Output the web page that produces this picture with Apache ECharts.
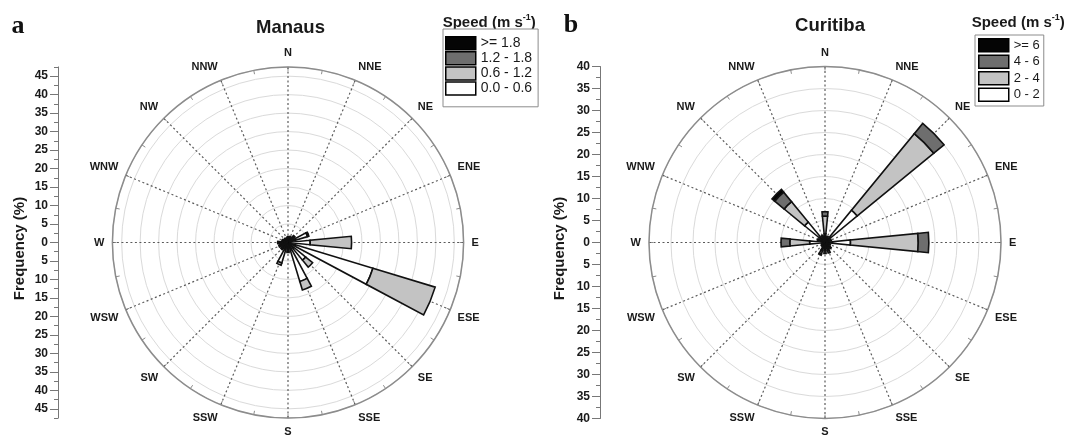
<!DOCTYPE html>
<html><head><meta charset="utf-8">
<script src="https://cdn.jsdelivr.net/npm/echarts@6/dist/echarts.min.js"></script>
<style>html,body{margin:0;padding:0;background:#fff}#c{width:1072px;height:436px}</style>
</head><body><div id="c"></div>
<script>
const directions = ['N','NNE','NE','ENE','E','ESE','SE','SSE','S','SSW','SW','WSW','W','WNW','NW','NNW'];

// Manaus – frequency (%) per speed class, stacked from the centre outwards
const manausClasses = ['0.0 - 0.6', '0.6 - 1.2', '1.2 - 1.8', '>= 1.8'];
const manausC1 = [1.0, 1.2, 1.5, 5.5, 6.0, 24.0, 6.2, 11.0, 2.0, 5.8, 1.5, 1.5, 1.5, 1.0, 0.8, 0.8];
const manausC2 = [0.3, 0.3, 0.5, 0.4, 11.2, 17.6, 2.4, 2.4, 0.5, 0.6, 0.5, 0.5, 0.6, 0.4, 0.3, 0.3];
const manausC3 = [0.2, 0.2, 0.3, 0, 0, 0, 0, 0, 0.2, 0, 0.3, 0.4, 0.4, 0.2, 0.2, 0.1];
const manausC4 = [0.1, 0, 0.1, 0, 0, 0, 0, 0, 0, 0, 0.2, 0.2, 0.3, 0.1, 0.1, 0.1];
const manausTicks = [-45, -40, -35, -30, -25, -20, -15, -10, -5, 0, 5, 10, 15, 20, 25, 30, 35, 40, 45];
const manausMax = 47.5;

// Curitiba
const curitibaClasses = ['0 - 2', '2 - 4', '4 - 6', '>= 6'];
const curitibaC1 = [2.0, 1.0, 9.5, 1.0, 5.8, 1.0, 1.0, 1.2, 1.0, 1.0, 0.8, 0.5, 3.5, 1.0, 6.0, 1.0];
const curitibaC2 = [4.0, 0.5, 22.5, 0.5, 15.4, 0.3, 0.5, 0.8, 0.8, 1.0, 0.3, 0.3, 4.5, 0.5, 6.0, 0.5];
const curitibaC3 = [1.0, 0, 3.0, 0, 2.4, 0, 0.3, 0.5, 0.7, 0.8, 0, 0, 2.0, 0.3, 2.8, 0.2];
const curitibaC4 = [0, 0, 0, 0, 0, 0, 0, 0, 0, 0.2, 0, 0, 0, 0, 0.8, 0];
const curitibaTicks = [-40, -35, -30, -25, -20, -15, -10, -5, 0, 5, 10, 15, 20, 25, 30, 35, 40];
const curitibaMax = 40;

const classColors = ['#ffffff', '#c3c3c3', '#6e6e6e', '#050505'];
const SANS = '"Liberation Sans", Arial, sans-serif';
const TXT = '#1a1a1a';

const chart = echarts.init(document.getElementById('c'), null, {renderer: 'canvas'});

function bgAngle(polarIndex) {
  return {
    polarIndex, type: 'value', min: 0, max: 360, interval: 22.5, startAngle: 90, clockwise: true,
    axisLine: {show: true, lineStyle: {color: '#8c8c8c', width: 1.5}},
    axisTick: {show: true, inside: true, length: 4, lineStyle: {color: '#8c8c8c', width: 1}},
    minorTick: {show: true, splitNumber: 2, length: 4, lineStyle: {color: '#8c8c8c', width: 1}},
    splitLine: {show: true, lineStyle: {color: '#5a5a5a', type: [2, 2.5], width: 1.2}},
    axisLabel: {
      formatter: v => { const i = Math.round(v / 22.5); return i >= 16 ? '' : directions[i]; },
      fontFamily: SANS, fontWeight: 'bold', fontSize: 11, color: TXT, margin: 8
    }
  };
}
function barAngle(polarIndex) {
  return {
    polarIndex, type: 'category', data: directions, startAngle: 101.25, clockwise: true,
    axisLine: {show: false}, axisTick: {show: false}, axisLabel: {show: false}, splitLine: {show: false}
  };
}
function bgRadius(polarIndex, max) {
  return {
    polarIndex, type: 'value', min: 0, max, interval: 5,
    axisLine: {show: false}, axisTick: {show: false}, axisLabel: {show: false},
    splitLine: {show: true, lineStyle: {color: '#dadada', width: 1}}
  };
}
function barRadius(polarIndex, max) {
  return {
    polarIndex, type: 'value', min: 0, max,
    axisLine: {show: false}, axisTick: {show: false}, axisLabel: {show: false}, splitLine: {show: false}
  };
}
function barSeries(name, values, color, polarIndex, stack) {
  return {
    type: 'bar', coordinateSystem: 'polar', polarIndex, name, stack,
    data: values.map(v => (v > 0 ? v : '-')),
    barWidth: '50%', silent: true, animation: false,
    itemStyle: {color, borderColor: '#111', borderWidth: 1.6}
  };
}
const absLabel = v => { const r = Math.round(Math.abs(v) * 10); return r % 50 === 0 ? String(r / 10) : ''; };
function mainY(gridIndex, max, ticks, nameGap) {
  return {
    gridIndex, type: 'value', min: -max, max, interval: 2.5, position: 'left',
    axisLine: {show: true, lineStyle: {color: '#777', width: 1}},
    axisTick: {show: true, length: 4, lineStyle: {color: '#777'}},
    axisLabel: {customValues: ticks, formatter: absLabel, fontFamily: SANS, fontSize: 12, fontWeight: 'bold', color: TXT, margin: 10},
    splitLine: {show: false},
    name: 'Frequency (%)', nameLocation: 'middle', nameGap,
    nameTextStyle: {fontFamily: SANS, fontSize: 15, fontWeight: 'bold', color: TXT, padding: [0, 12, 0, 0]}
  };
}
function majorTickY(gridIndex, max, ticks) {
  return {
    gridIndex, type: 'value', min: -max, max, position: 'left',
    axisLine: {show: false}, axisLabel: {show: false}, splitLine: {show: false},
    axisTick: {show: true, customValues: ticks, length: 8, lineStyle: {color: '#777'}}
  };
}
function legend(left, top, data, padding, gap, fontSize) {
  return {
    orient: 'vertical', left, top, data, selectedMode: false,
    icon: 'rect', itemWidth: 30, itemHeight: 13, itemGap: gap, padding,
    borderColor: '#8c8c8c', borderWidth: 1, backgroundColor: '#fff',
    itemStyle: {borderColor: '#000', borderWidth: 1.5},
    textStyle: {fontFamily: SANS, fontSize, color: TXT, lineHeight: 13}
  };
}
function speedTitle(x, y) {
  return {
    type: 'text', x, y,
    style: {
      text: '{t|Speed (m s}{s|-1}{t|)}',
      textVerticalAlign: 'middle', textAlign: 'left',
      rich: {
        t: {fontFamily: SANS, fontSize: 15, fontWeight: 'bold', fill: TXT, lineHeight: 17, verticalAlign: 'bottom'},
        s: {fontFamily: SANS, fontSize: 9, fontWeight: 'bold', fill: TXT, lineHeight: 17, verticalAlign: 'top'}
      }
    }
  };
}

const series = [];
[manausC1, manausC2, manausC3, manausC4].forEach((vals, i) =>
  series.push(barSeries(manausClasses[i], vals, classColors[i], 1, 'manaus')));
[curitibaC1, curitibaC2, curitibaC3, curitibaC4].forEach((vals, i) =>
  series.push(barSeries(curitibaClasses[i], vals, classColors[i], 3, 'curitiba')));

chart.setOption({
  backgroundColor: '#fff',
  animation: false,
  polar: [
    {center: [288, 242.5], radius: 175.6},
    {center: [288, 242.5], radius: 175.6},
    {center: [825, 242.5], radius: 176},
    {center: [825, 242.5], radius: 176}
  ],
  angleAxis: [bgAngle(0), barAngle(1), bgAngle(2), barAngle(3)],
  radiusAxis: [bgRadius(0, manausMax), barRadius(1, manausMax), bgRadius(2, curitibaMax), barRadius(3, curitibaMax)],
  grid: [
    {left: 58, top: 242.5 - 175.6, width: 1, height: 351.2},
    {left: 600, top: 242.5 - 176, width: 1, height: 352}
  ],
  xAxis: [{gridIndex: 0, type: 'value', show: false}, {gridIndex: 1, type: 'value', show: false}],
  yAxis: [
    mainY(0, manausMax, manausTicks, 30.5), majorTickY(0, manausMax, manausTicks),
    mainY(1, curitibaMax, curitibaTicks, 33), majorTickY(1, curitibaMax, curitibaTicks)
  ],
  legend: [
    legend(443, 29, manausClasses.slice().reverse(), [7, 6, 11, 2], 0.6, 14),
    legend(975, 35, curitibaClasses.slice().reverse(), [3, 4, 4, 3], 2, 13)
  ],
  graphic: [
    {type: 'text', x: 18, y: 26.5, style: {text: 'a', font: 'bold 26px "Liberation Serif", "Times New Roman", serif', fill: '#111', textAlign: 'center', textVerticalAlign: 'middle'}},
    {type: 'text', x: 571, y: 25.5, style: {text: 'b', font: 'bold 26px "Liberation Serif", "Times New Roman", serif', fill: '#111', textAlign: 'center', textVerticalAlign: 'middle'}},
    {type: 'text', x: 290.5, y: 27.5, style: {text: 'Manaus', font: 'bold 18.5px "Liberation Sans", Arial, sans-serif', fill: TXT, textAlign: 'center', textVerticalAlign: 'middle'}},
    {type: 'text', x: 830, y: 26, style: {text: 'Curitiba', font: 'bold 18.5px "Liberation Sans", Arial, sans-serif', fill: TXT, textAlign: 'center', textVerticalAlign: 'middle'}},
    speedTitle(442.7, 21.5),
    speedTitle(971.7, 21.5)
  ],
  series
});
</script>
</body></html>
